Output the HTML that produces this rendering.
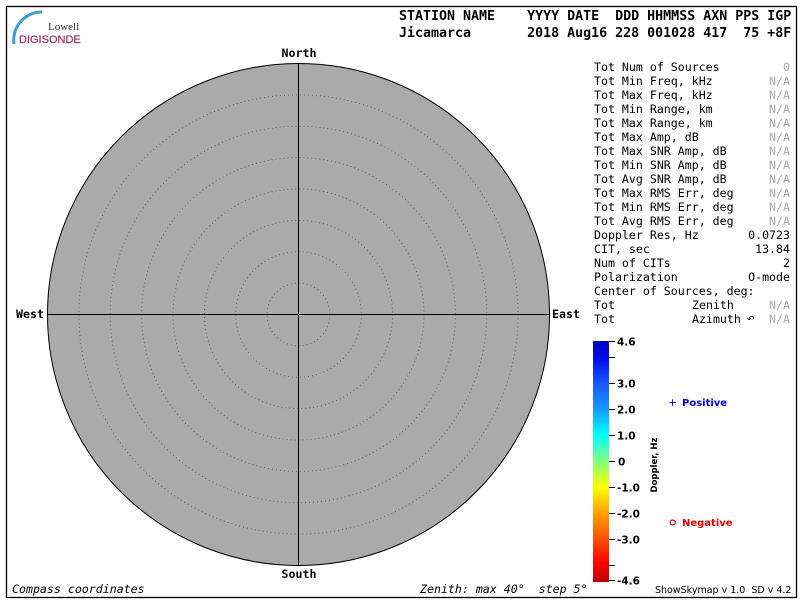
<!DOCTYPE html>
<html><head><meta charset="utf-8"><style>
html,body{margin:0;padding:0;background:#fff;}
svg{display:block;}
.mono{font-family:"DejaVu Sans Mono","Liberation Mono",monospace;}
.sans{font-family:"DejaVu Sans","Liberation Sans",sans-serif;}
text{white-space:pre;}
</style></head><body>
<svg width="800" height="600" viewBox="0 0 800 600" xmlns="http://www.w3.org/2000/svg" xml:space="preserve">
<defs>
<linearGradient id="cb" x1="0" y1="0" x2="0" y2="1">
<stop offset="0" stop-color="#0000b8"/>
<stop offset="0.08" stop-color="#0010f0"/>
<stop offset="0.174" stop-color="#1858ff"/>
<stop offset="0.282" stop-color="#1898ff"/>
<stop offset="0.39" stop-color="#00ffff"/>
<stop offset="0.498" stop-color="#80ff80"/>
<stop offset="0.606" stop-color="#ffff00"/>
<stop offset="0.714" stop-color="#ffa000"/>
<stop offset="0.822" stop-color="#ff5000"/>
<stop offset="0.92" stop-color="#ff0000"/>
<stop offset="1" stop-color="#c00000"/>
</linearGradient>
</defs>
<rect x="0" y="0" width="800" height="600" fill="#fff"/>
<rect x="6.5" y="6.5" width="790" height="591" fill="none" stroke="#000" stroke-width="1.3"/>

<!-- logo -->
<path d="M14,44 A28,28 0 0 1 42,12" fill="none" stroke="#3a9fd0" stroke-width="3"/>
<text x="48" y="30" font-family="Liberation Serif,serif" font-size="11" fill="#333">Lowell</text>
<text x="19" y="43" font-family="Liberation Sans,sans-serif" font-size="11" fill="#a3285e" stroke="#a3285e" stroke-width="0.2">DIGISONDE</text>

<!-- header -->
<text class="mono" x="399" y="20" font-size="13.3" font-weight="bold">STATION NAME    YYYY DATE  DDD HHMMSS AXN PPS IGP</text>
<text class="mono" x="399" y="37" font-size="13.3" font-weight="bold">Jicamarca       2018 Aug16 228 001028 417  75 +8F</text>

<!-- skymap -->
<circle cx="298.5" cy="314.5" r="251" fill="#aaaaaa" stroke="#000" stroke-width="1"/>
<g fill="none" stroke="#666" stroke-width="1" stroke-dasharray="1 3">
<circle cx="298.5" cy="314.5" r="31.4"/>
<circle cx="298.5" cy="314.5" r="62.8"/>
<circle cx="298.5" cy="314.5" r="94.1"/>
<circle cx="298.5" cy="314.5" r="125.5"/>
<circle cx="298.5" cy="314.5" r="156.9"/>
<circle cx="298.5" cy="314.5" r="188.3"/>
<circle cx="298.5" cy="314.5" r="219.6"/>
</g>
<line x1="47" y1="314.5" x2="550" y2="314.5" stroke="#000" stroke-width="1"/>
<line x1="298.5" y1="63" x2="298.5" y2="566" stroke="#000" stroke-width="1"/>

<text class="mono" x="299" y="57" font-size="11.6" font-weight="bold" text-anchor="middle">North</text>
<text class="mono" x="299" y="578" font-size="11.6" font-weight="bold" text-anchor="middle">South</text>
<text class="mono" x="16" y="318" font-size="11.6" font-weight="bold">West</text>
<text class="mono" x="552" y="318" font-size="11.6" font-weight="bold">East</text>

<text class="mono" x="12" y="593" font-size="11.6" font-style="italic">Compass coordinates</text>
<text class="mono" x="420" y="593" font-size="11.6" font-style="italic">Zenith: max 40°  step 5°</text>

<!-- side panel -->
<g class="mono" font-size="11.6" fill="#000">
<text x="594" y="71">Tot Num of Sources</text>
<text x="594" y="85">Tot Min Freq, kHz</text>
<text x="594" y="99">Tot Max Freq, kHz</text>
<text x="594" y="113">Tot Min Range, km</text>
<text x="594" y="127">Tot Max Range, km</text>
<text x="594" y="141">Tot Max Amp, dB</text>
<text x="594" y="155">Tot Max SNR Amp, dB</text>
<text x="594" y="169">Tot Min SNR Amp, dB</text>
<text x="594" y="183">Tot Avg SNR Amp, dB</text>
<text x="594" y="197">Tot Max RMS Err, deg</text>
<text x="594" y="211">Tot Min RMS Err, deg</text>
<text x="594" y="225">Tot Avg RMS Err, deg</text>
<text x="594" y="239">Doppler Res, Hz</text>
<text x="594" y="253">CIT, sec</text>
<text x="594" y="267">Num of CITs</text>
<text x="594" y="281">Polarization</text>
<text x="594" y="295">Center of Sources, deg:</text>
<text x="594" y="309">Tot</text>
<text x="594" y="323">Tot</text>
<text x="692" y="309">Zenith</text>
<text x="692" y="323">Azimuth</text>
</g>
<text x="747" y="322" font-family="DejaVu Sans,sans-serif" font-size="9">↶</text>
<g class="mono" font-size="11.6" fill="#000" text-anchor="end">
<text x="790" y="239">0.0723</text>
<text x="790" y="253">13.84</text>
<text x="790" y="267">2</text>
<text x="790" y="281">O-mode</text>
</g>
<g class="mono" font-size="11.6" fill="#aaaaaa" text-anchor="end">
<text x="790" y="71">0</text>
<text x="790" y="85">N/A</text>
<text x="790" y="99">N/A</text>
<text x="790" y="113">N/A</text>
<text x="790" y="127">N/A</text>
<text x="790" y="141">N/A</text>
<text x="790" y="155">N/A</text>
<text x="790" y="169">N/A</text>
<text x="790" y="183">N/A</text>
<text x="790" y="197">N/A</text>
<text x="790" y="211">N/A</text>
<text x="790" y="225">N/A</text>
<text x="790" y="309">N/A</text>
<text x="790" y="323">N/A</text>
</g>

<!-- colorbar -->
<rect x="593" y="341" width="16" height="241" fill="url(#cb)"/>
<g stroke="#000" stroke-width="1">
<line x1="609" y1="341.5" x2="615" y2="341.5"/>
<line x1="609" y1="357.5" x2="615" y2="357.5"/>
<line x1="609" y1="383.5" x2="615" y2="383.5"/>
<line x1="609" y1="409.5" x2="615" y2="409.5"/>
<line x1="609" y1="435.5" x2="615" y2="435.5"/>
<line x1="609" y1="461.5" x2="615" y2="461.5"/>
<line x1="609" y1="487.5" x2="615" y2="487.5"/>
<line x1="609" y1="513.5" x2="615" y2="513.5"/>
<line x1="609" y1="539.5" x2="615" y2="539.5"/>
<line x1="609" y1="565.5" x2="615" y2="565.5"/>
<line x1="609" y1="580.5" x2="615" y2="580.5"/>
</g>
<g class="sans" font-size="10.5" font-weight="bold" fill="#000">
<text x="617" y="345.5">4.6</text>
<text x="617" y="387.5">3.0</text>
<text x="617" y="413.5">2.0</text>
<text x="617" y="439.5">1.0</text>
<text x="618" y="465.5">0</text>
<text x="617" y="491.5">-1.0</text>
<text x="617" y="517.5">-2.0</text>
<text x="617" y="543.5">-3.0</text>
<text x="617" y="584.5">-4.6</text>
</g>
<text class="sans" transform="translate(657,465) rotate(-90)" font-size="8.5" font-weight="bold" text-anchor="middle">Doppler, Hz</text>

<text class="sans" x="668" y="406" font-size="11" fill="#0000e0">+</text>
<text class="sans" x="682" y="406" font-size="10" font-weight="bold" fill="#0000e0">Positive</text>
<circle cx="672.7" cy="522.5" r="2.5" fill="none" stroke="#e00000" stroke-width="1.2"/>
<text class="sans" x="682" y="526" font-size="10" font-weight="bold" fill="#e00000">Negative</text>

<text class="sans" x="655" y="593" font-size="9.5" fill="#000">ShowSkymap v 1.0  SD v 4.2</text>
</svg>
</body></html>
